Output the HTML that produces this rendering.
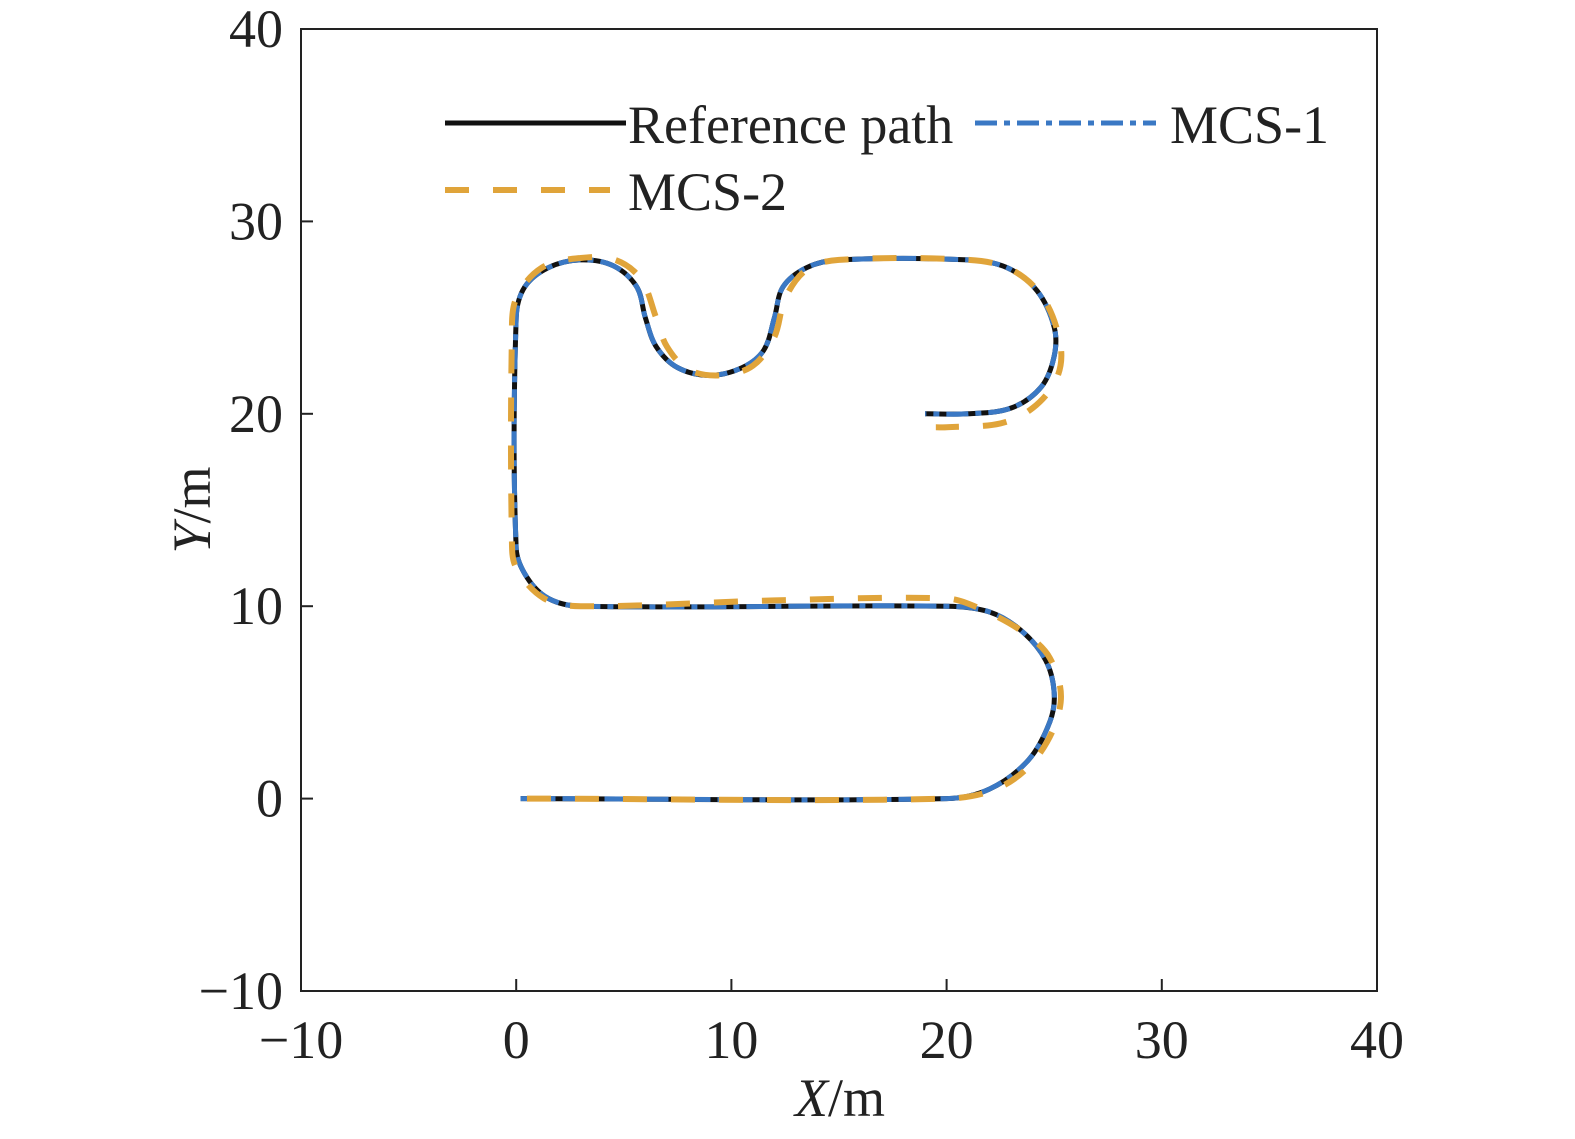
<!DOCTYPE html>
<html><head><meta charset="utf-8"><style>
html,body{margin:0;padding:0;background:#fff}
svg{display:block;font-family:"Liberation Serif",serif}
</style></head><body>
<svg id="chart" width="1575" height="1139" viewBox="0 0 1575 1139" xmlns="http://www.w3.org/2000/svg">
<g id="axes"></g>
<g id="series"></g>
<g id="legend">
  <line x1="445" y1="123" x2="626" y2="123" stroke="#111" stroke-width="5"/>
  <text x="628" y="143" font-size="54" fill="#222">Reference path</text>
  <line x1="975" y1="123" x2="1156" y2="123" stroke="#3a78c4" stroke-width="5" stroke-dasharray="22,7,6,7"/>
  <text x="1170" y="143" font-size="54" fill="#222">MCS-1</text>
  <line x1="445" y1="190" x2="610" y2="190" stroke="#e0a43a" stroke-width="6" stroke-dasharray="24,24"/>
  <text x="628" y="210" font-size="54" fill="#222">MCS-2</text>
</g>
</svg>
<script>
const xTicks=[-10,0,10,20,30,40];
const yTicks=[-10,0,10,20,30,40];
const refX=[0.2,20,22,23.8,24.8,25,24.6,23.5,22,20,3,1.5,0.5,0,0,0.4,1.5,3,4.5,5.6,6,6.5,7.5,9,10.5,11.5,12,12.4,13.5,15,21,22.8,24.2,25,25,24.4,23,21,19];
const refY=[0,0,0.5,2,4,5.5,7.2,8.7,9.7,10,10,10.4,11.5,13,25,26.6,27.6,28,27.7,26.6,25,23.5,22.4,22,22.4,23.3,25,26.6,27.6,28,28,27.6,26.4,24.5,23,21.4,20.3,20,20];
const mcs1X=refX.slice();
const mcs1Y=refY.slice();
const mcs2X=[0.5,20,22.5,24.3,25.3,24.8,23.5,21.5,20,12,3,1.3,0,-0.2,-0.2,0,1.2,3,4.6,5.8,6.5,7,8,9.5,11,12,12.5,13.5,15,21,23,24.5,25.3,25.1,24,22.5,20,19.5];
const mcs2Y=[0,0,0.6,2.3,5,7.3,8.7,9.9,10.4,10.3,10,10.4,12,13.5,24,26,27.6,28.1,28,27,25,23.5,22.3,22,22.5,24,26,27.5,28,28,27.5,26,23.5,21.8,20.3,19.5,19.3,19.3];
const NS="http://www.w3.org/2000/svg";
const X0=301,X1=1377,Y0=991,Y1=29;
function sx(v){return X0+(v+10)/50*(X1-X0);}
function sy(v){return Y0-(v+10)/50*(Y0-Y1);}
function mk(tag,attrs,parent){const e=document.createElementNS(NS,tag);for(const k in attrs)e.setAttribute(k,attrs[k]);parent.appendChild(e);return e;}
const axes=document.getElementById('axes');
const frame=mk('rect',{x:X0,y:Y1,width:X1-X0,height:Y0-Y1,fill:'none',stroke:'#222','stroke-width':2},axes);


xTicks.forEach(t=>{
  const l=mk('line',{x1:sx(t),x2:sx(t),y1:Y0,y2:Y0-12,stroke:'#222','stroke-width':2},axes);
  
  
  const tx=mk('text',{x:sx(t),y:1058,'font-size':54,'text-anchor':'middle',fill:'#222'},axes);
  tx.textContent=t<0?'\u2212'+(-t):String(t);
  
  
});
yTicks.forEach(t=>{
  const l=mk('line',{x1:X0,x2:X0+12,y1:sy(t),y2:sy(t),stroke:'#222','stroke-width':2},axes);
  
  
  const tx=mk('text',{x:283,y:sy(t)+18,'font-size':54,'text-anchor':'end',fill:'#222'},axes);
  tx.textContent=t<0?'\u2212'+(-t):String(t);
  
  
});
const xt=mk('text',{x:840,y:1116,'font-size':54,'text-anchor':'middle',fill:'#222'},axes);
xt.innerHTML='<tspan font-style="italic">X</tspan>/m';


const yt=mk('text',{x:0,y:0,'font-size':54,'text-anchor':'middle',fill:'#222',transform:'translate(210,510) rotate(-90)'},axes);
yt.innerHTML='<tspan font-style="italic">Y</tspan>/m';


function pathD(xs,ys){
  const p=xs.map((x,i)=>[sx(x),sy(ys[i])]);
  const n=p.length;
  const tan=p.map((q,i)=>{
    const a=p[Math.max(0,i-1)],b=p[Math.min(n-1,i+1)];
    let dx=b[0]-a[0],dy=b[1]-a[1];const L=Math.hypot(dx,dy)||1;return [dx/L,dy/L];
  });
  let d='M'+p[0][0]+','+p[0][1];
  for(let i=0;i<n-1;i++){
    const p1=p[i],p2=p[i+1];
    const s=Math.hypot(p2[0]-p1[0],p2[1]-p1[1])/3;
    const c1=[p1[0]+tan[i][0]*s,p1[1]+tan[i][1]*s];
    const c2=[p2[0]-tan[i+1][0]*s,p2[1]-tan[i+1][1]*s];
    d+=' C'+c1[0]+','+c1[1]+' '+c2[0]+','+c2[1]+' '+p2[0]+','+p2[1];
  }
  return d;
}
const series=document.getElementById('series');
const r=mk('path',{d:pathD(refX,refY),fill:'none',stroke:'#111','stroke-width':5},series);


const b=mk('path',{d:pathD(mcs1X,mcs1Y),fill:'none',stroke:'#3a78c4','stroke-width':5,'stroke-dasharray':'22,7,6,7'},series);


const o=mk('path',{d:pathD(mcs2X,mcs2Y),fill:'none',stroke:'#e0a43a','stroke-width':6,'stroke-dasharray':'24,24'},series);


</script>
</body></html>
